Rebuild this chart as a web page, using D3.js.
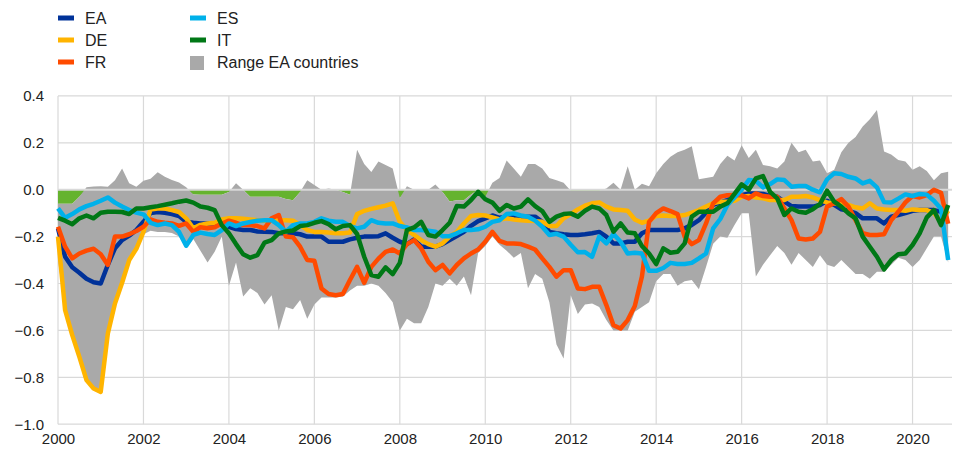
<!DOCTYPE html>
<html>
<head>
<meta charset="utf-8">
<script src="https://cdn.jsdelivr.net/npm/d3@7"></script>
<style>
  html, body { margin: 0; padding: 0; background: #fff; }
  svg { display: block; font-family: "Liberation Sans", Arial, sans-serif; }
</style>
</head>
<body>
<svg id="chart" width="955" height="452"></svg>
<script>
// Bi-monthly observations, Jan 2000 ... Nov 2020 (126 points)
const dates = d3.range(126).map(i => 2000 + i / 6);

const seriesNames = ["EA", "DE", "FR", "ES", "IT"];
const seriesColors = ["#003299", "#FFB400", "#FF4B00", "#00B1EA", "#007816"];

const EA = [
  -0.165,-0.286,-0.331,-0.354,-0.38,-0.395,-0.40,-0.32,-0.25,-0.215,
  -0.196,-0.172,-0.137,-0.10,-0.095,-0.098,-0.104,-0.112,-0.137,-0.141,
  -0.144,-0.144,-0.144,-0.151,-0.158,-0.168,-0.172,-0.172,-0.178,-0.179,
  -0.18,-0.186,-0.186,-0.186,-0.19,-0.2,-0.2,-0.2,-0.222,-0.222,
  -0.222,-0.212,-0.205,-0.2,-0.2,-0.198,-0.186,-0.205,-0.222,-0.232,
  -0.212,-0.243,-0.243,-0.243,-0.232,-0.215,-0.198,-0.18,-0.154,-0.134,
  -0.122,-0.11,-0.12,-0.115,-0.115,-0.115,-0.115,-0.115,-0.137,-0.18,
  -0.186,-0.19,-0.193,-0.193,-0.19,-0.186,-0.18,-0.2,-0.229,-0.229,
  -0.222,-0.222,-0.186,-0.172,-0.172,-0.172,-0.172,-0.172,-0.165,-0.15,
  -0.13,-0.098,-0.065,-0.054,-0.044,-0.03,-0.023,-0.016,-0.016,-0.018,
  -0.027,-0.03,-0.051,-0.07,-0.072,-0.072,-0.072,-0.065,-0.047,-0.065,
  -0.084,-0.09,-0.1,-0.122,-0.122,-0.122,-0.144,-0.115,-0.108,-0.1,
  -0.09,-0.087,-0.087,-0.087,-0.094,-0.098];

const DE = [
  -0.2,-0.514,-0.62,-0.713,-0.812,-0.848,-0.862,-0.613,-0.485,-0.397,
  -0.30,-0.252,-0.18,-0.084,-0.08,-0.08,-0.087,-0.095,-0.122,-0.165,
  -0.15,-0.144,-0.141,-0.127,-0.122,-0.122,-0.124,-0.127,-0.13,-0.132,
  -0.132,-0.13,-0.13,-0.132,-0.15,-0.172,-0.18,-0.18,-0.183,-0.186,
  -0.186,-0.183,-0.104,-0.09,-0.082,-0.075,-0.068,-0.058,-0.137,-0.172,
  -0.193,-0.215,-0.232,-0.243,-0.229,-0.2,-0.18,-0.144,-0.112,-0.108,
  -0.11,-0.118,-0.127,-0.122,-0.127,-0.13,-0.132,-0.134,-0.137,-0.155,
  -0.155,-0.122,-0.104,-0.084,-0.068,-0.058,-0.054,-0.072,-0.084,-0.087,
  -0.09,-0.127,-0.141,-0.132,-0.112,-0.11,-0.112,-0.112,-0.108,-0.098,
  -0.087,-0.072,-0.058,-0.051,-0.051,-0.047,-0.03,-0.027,-0.033,-0.037,
  -0.044,-0.044,-0.044,-0.03,-0.03,-0.027,-0.033,-0.044,-0.054,-0.058,
  -0.061,-0.065,-0.075,-0.08,-0.058,-0.08,-0.084,-0.087,-0.087,-0.09,
  -0.084,-0.087,-0.087,-0.1,-0.137,-0.09];

const FR = [
  -0.158,-0.243,-0.293,-0.272,-0.26,-0.252,-0.275,-0.321,-0.2,-0.2,
  -0.19,-0.176,-0.158,-0.127,-0.137,-0.141,-0.144,-0.154,-0.144,-0.18,
  -0.16,-0.164,-0.16,-0.144,-0.132,-0.141,-0.151,-0.151,-0.155,-0.165,
  -0.122,-0.108,-0.2,-0.203,-0.243,-0.3,-0.303,-0.421,-0.445,-0.45,
  -0.445,-0.385,-0.329,-0.397,-0.329,-0.294,-0.265,-0.255,-0.272,-0.232,
  -0.215,-0.25,-0.307,-0.343,-0.321,-0.357,-0.321,-0.293,-0.272,-0.255,
  -0.222,-0.18,-0.218,-0.229,-0.229,-0.232,-0.243,-0.255,-0.293,-0.329,
  -0.371,-0.343,-0.343,-0.421,-0.424,-0.414,-0.414,-0.492,-0.578,-0.592,
  -0.556,-0.496,-0.37,-0.137,-0.1,-0.08,-0.091,-0.104,-0.2,-0.232,
  -0.215,-0.144,-0.058,-0.03,-0.024,-0.023,-0.024,-0.037,-0.016,-0.027,
  -0.03,-0.03,-0.08,-0.13,-0.208,-0.212,-0.208,-0.18,-0.072,-0.058,
  -0.04,-0.072,-0.13,-0.186,-0.193,-0.193,-0.19,-0.13,-0.094,-0.054,
  -0.027,-0.033,-0.023,0.0,-0.013,-0.145];

const ES = [
  -0.08,-0.12,-0.104,-0.084,-0.07,-0.06,-0.047,-0.033,-0.055,-0.072,
  -0.087,-0.098,-0.105,-0.141,-0.151,-0.144,-0.151,-0.18,-0.239,-0.193,
  -0.183,-0.189,-0.193,-0.172,-0.144,-0.155,-0.144,-0.138,-0.132,-0.13,
  -0.13,-0.151,-0.18,-0.151,-0.144,-0.144,-0.137,-0.122,-0.132,-0.137,
  -0.137,-0.155,-0.165,-0.158,-0.13,-0.141,-0.144,-0.144,-0.155,-0.161,
  -0.172,-0.172,-0.175,-0.179,-0.198,-0.198,-0.186,-0.172,-0.172,-0.169,
  -0.158,-0.137,-0.13,-0.104,-0.101,-0.11,-0.115,-0.132,-0.158,-0.193,
  -0.188,-0.2,-0.235,-0.267,-0.266,-0.286,-0.2,-0.229,-0.189,-0.222,
  -0.272,-0.269,-0.272,-0.346,-0.346,-0.334,-0.312,-0.317,-0.317,-0.312,
  -0.293,-0.272,-0.165,-0.125,-0.065,-0.033,0.0,0.041,0.038,0.01,
  0.024,0.044,0.041,0.013,0.016,0.016,0.0,-0.011,0.044,0.07,
  0.067,0.055,0.048,0.027,0.038,0.01,-0.053,-0.055,-0.038,-0.02,
  -0.027,-0.018,-0.021,-0.047,-0.081,-0.30];

const IT = [
  -0.12,-0.132,-0.147,-0.122,-0.11,-0.122,-0.098,-0.094,-0.094,-0.095,
  -0.104,-0.08,-0.08,-0.075,-0.07,-0.064,-0.058,-0.051,-0.046,-0.055,
  -0.072,-0.077,-0.087,-0.151,-0.186,-0.232,-0.275,-0.29,-0.279,-0.226,
  -0.215,-0.186,-0.178,-0.174,-0.155,-0.151,-0.141,-0.134,-0.147,-0.169,
  -0.155,-0.151,-0.189,-0.286,-0.364,-0.371,-0.331,-0.36,-0.312,-0.172,
  -0.161,-0.137,-0.193,-0.2,-0.172,-0.141,-0.07,-0.072,-0.044,-0.009,
  -0.041,-0.055,-0.09,-0.065,-0.08,-0.072,-0.041,-0.07,-0.091,-0.137,
  -0.115,-0.104,-0.101,-0.115,-0.09,-0.072,-0.08,-0.108,-0.179,-0.144,
  -0.183,-0.186,-0.24,-0.272,-0.317,-0.25,-0.269,-0.265,-0.229,-0.115,
  -0.094,-0.094,-0.094,-0.072,-0.058,-0.018,0.023,0.0,0.048,0.058,
  -0.009,-0.037,-0.108,-0.08,-0.094,-0.098,-0.083,-0.061,-0.004,-0.051,
  -0.072,-0.101,-0.122,-0.2,-0.243,-0.286,-0.34,-0.3,-0.275,-0.272,
  -0.236,-0.186,-0.118,-0.087,-0.151,-0.065];

const rangeMax = [
  -0.06,-0.06,-0.06,-0.03,0.01,0.014,0.015,0.013,0.04,0.09,
  0.027,0.013,0.038,0.047,0.074,0.055,0.041,0.031,0.01,-0.02,
  -0.022,-0.022,-0.022,-0.022,-0.01,0.027,0.0,-0.03,-0.03,-0.03,
  -0.03,-0.03,-0.04,-0.045,-0.01,0.04,0.02,0.0,0.005,0.0,
  -0.01,-0.022,0.17,0.11,0.075,0.12,0.105,0.09,-0.035,0.015,
  0.0,0.0,0.0,0.022,-0.01,-0.05,-0.045,-0.045,-0.02,0.0,
  -0.03,0.03,0.05,0.125,0.09,0.055,0.11,0.11,0.09,0.05,
  0.04,0.03,-0.005,-0.005,-0.005,-0.005,-0.005,0.005,0.03,0.0,
  0.1,0.0,0.025,0.015,0.07,0.11,0.14,0.16,0.17,0.185,
  0.045,0.05,0.055,0.11,0.145,0.125,0.19,0.135,0.17,0.105,
  0.1,0.09,0.12,0.2,0.16,0.17,0.12,0.125,0.07,0.085,
  0.16,0.2,0.225,0.27,0.3,0.34,0.163,0.15,0.127,0.12,
  0.085,0.1,0.08,0.04,0.07,0.077];

const rangeMin = [
  -0.3,-0.52,-0.63,-0.72,-0.82,-0.855,-0.87,-0.62,-0.49,-0.40,
  -0.305,-0.26,-0.19,-0.175,-0.18,-0.18,-0.185,-0.2,-0.25,-0.21,
  -0.26,-0.31,-0.265,-0.2,-0.41,-0.31,-0.455,-0.42,-0.44,-0.49,
  -0.45,-0.6,-0.5,-0.51,-0.47,-0.55,-0.49,-0.46,-0.46,-0.46,
  -0.455,-0.43,-0.41,-0.41,-0.4,-0.41,-0.44,-0.48,-0.6,-0.55,
  -0.57,-0.57,-0.5,-0.4,-0.41,-0.38,-0.41,-0.37,-0.45,-0.27,
  -0.24,-0.2,-0.235,-0.26,-0.29,-0.27,-0.42,-0.36,-0.38,-0.48,
  -0.66,-0.72,-0.45,-0.53,-0.49,-0.485,-0.5,-0.556,-0.6,-0.6,
  -0.6,-0.52,-0.5,-0.48,-0.39,-0.36,-0.36,-0.41,-0.39,-0.385,
  -0.425,-0.33,-0.23,-0.2,-0.205,-0.15,-0.1,-0.1,-0.37,-0.32,
  -0.28,-0.24,-0.27,-0.32,-0.27,-0.3,-0.33,-0.28,-0.32,-0.33,
  -0.3,-0.33,-0.36,-0.36,-0.38,-0.35,-0.35,-0.32,-0.29,-0.3,
  -0.33,-0.3,-0.25,-0.2,-0.2,-0.31];

const yTicks = [0.4, 0.2, 0.0, -0.2, -0.4, -0.6, -0.8, -1.0];
const xTicks = [2000, 2002, 2004, 2006, 2008, 2010, 2012, 2014, 2016, 2018, 2020];
const rangeLabel = "Range EA countries";

const seriesValues = [EA, DE, FR, ES, IT];

const svg = d3.select("#chart");
const x = d3.scaleLinear().domain([2000, 2020.9]).range([58, 951]);
const y = d3.scaleLinear().domain([-1.0, 0.4]).range([424.2, 95.9]);

const gridColor = "#d9d9d9";
const textColor = "#222";

// gridlines
const grid = svg.append("g");
grid.selectAll("line.h").data(yTicks.filter(v => v !== 0)).join("line")
  .attr("x1", x(2000)).attr("x2", 952)
  .attr("y1", d => y(d)).attr("y2", d => y(d))
  .attr("stroke", gridColor).attr("stroke-width", 1.2);
grid.selectAll("line.v").data(xTicks).join("line")
  .attr("x1", d => x(d)).attr("x2", d => x(d))
  .attr("y1", y(0.4)).attr("y2", y(-1.0))
  .attr("stroke", gridColor).attr("stroke-width", 1.2);

// range area data
const rangeData = dates.map((d, i) => ({ t: d, lo: rangeMin[i], hi: rangeMax[i] }));

// green band between zero and the top of the range when it is below zero
svg.append("path")
  .datum(rangeData)
  .attr("fill", "#65B32E")
  .attr("d", d3.area()
    .x(d => x(d.t))
    .y0(y(0))
    .y1(d => y(Math.min(d.hi, 0))));

svg.append("path")
  .datum(rangeData)
  .attr("fill", "#A9A9A9")
  .attr("d", d3.area()
    .x(d => x(d.t))
    .y0(d => y(d.lo))
    .y1(d => y(d.hi)));

// zero line over the area
svg.append("line")
  .attr("x1", x(2000)).attr("x2", 952)
  .attr("y1", y(0)).attr("y2", y(0))
  .attr("stroke", gridColor).attr("stroke-width", 2);

// series lines
const line = d3.line().x(d => x(d.t)).y(d => y(d.v));
seriesValues.forEach((vals, k) => {
  svg.append("path")
    .datum(dates.map((d, i) => ({ t: d, v: vals[i] })))
    .attr("fill", "none")
    .attr("stroke", seriesColors[k])
    .attr("stroke-width", 4.5)
    .attr("stroke-linejoin", "round")
    .attr("stroke-linecap", "butt")
    .attr("d", line);
});

// y axis labels
const yAxis = d3.axisLeft(y).tickValues(yTicks).tickSize(0).tickPadding(0)
  .tickFormat(d3.format(".1f"));
const gy = svg.append("g").attr("transform", "translate(44,0)").call(yAxis);
gy.select(".domain").remove();
gy.selectAll("text").attr("font-size", 15).attr("fill", textColor)
  .attr("font-family", "Liberation Sans, Arial, sans-serif");

// x axis labels
const xAxis = d3.axisBottom(x).tickValues(xTicks).tickSize(0).tickPadding(0)
  .tickFormat(d3.format("d"));
const gx = svg.append("g").attr("transform", "translate(0,433)").call(xAxis);
gx.select(".domain").remove();
gx.selectAll("text").attr("font-size", 15).attr("fill", textColor)
  .attr("font-family", "Liberation Sans, Arial, sans-serif");

// legend
const legendItems = seriesNames.map((n, i) => ({ name: n, color: seriesColors[i], type: "line" }))
  .concat([{ name: rangeLabel, color: "#A9A9A9", type: "box" }]);
const legendPos = [[58, 0], [58, 1], [58, 2], [190, 0], [190, 1], [190, 2]];
const lg = svg.append("g");
legendItems.forEach((it, i) => {
  const [lx, row] = legendPos[i];
  const base = 24 + row * 22;
  if (it.type === "line") {
    lg.append("rect").attr("x", lx).attr("y", base - 8.5).attr("width", 16).attr("height", 5)
      .attr("fill", it.color);
  } else {
    lg.append("rect").attr("x", lx).attr("y", base - 12).attr("width", 14).attr("height", 14)
      .attr("fill", it.color);
  }
  lg.append("text").attr("x", lx + 27).attr("y", base)
    .attr("font-size", 16).attr("fill", textColor).text(it.name);
});
</script>
</body>
</html>
